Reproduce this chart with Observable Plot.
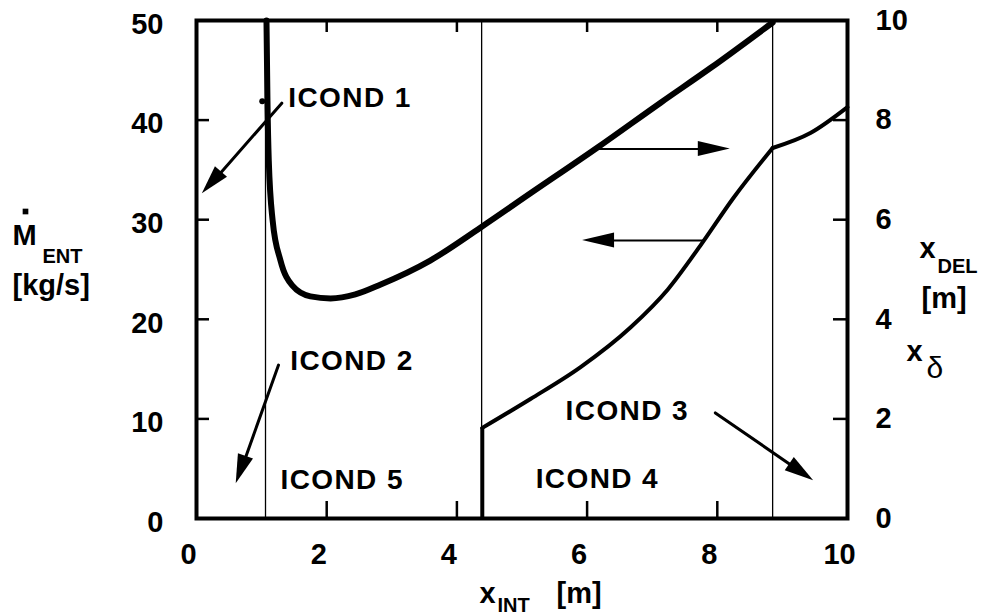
<!DOCTYPE html>
<html><head><meta charset="utf-8">
<script src="https://cdn.jsdelivr.net/npm/d3@7"></script>
<script src="https://cdn.jsdelivr.net/npm/@observablehq/plot@0.6"></script>
<style>body{margin:0;background:#fff}</style>
</head><body><div id="chart"></div>
<script>
// right axis (x_DEL, m) maps onto left axis (M_ENT, kg/s) by this ratio
const RATIO = 5;
const xTicks = [0, 2, 4, 6, 8, 10];
const yTicks = [0, 10, 20, 30, 40, 50];
const y2Ticks = [0, 2, 4, 6, 8, 10];
const innerXTicks = [2, 4, 6, 8];
const innerYTicks = [10, 20, 30, 40];
const boundaries = [1.06, 4.38, 8.85];

// x_DEL / x_delta curve (right axis, m)
const delX = [1.075, 1.09, 1.11, 1.17, 1.29, 1.47, 1.75, 2.06, 2.44, 2.83, 3.59, 4.36, 5.13, 6.16, 7.13, 7.90, 8.85];
const delY = [10, 8.39, 7.19, 5.98, 5.18, 4.68, 4.46, 4.42, 4.50, 4.70, 5.18, 5.84, 6.53, 7.45, 8.35, 9.05, 9.96];

// M_ENT curve (left axis, kg/s)
const mentX = [4.39, 5.13, 5.90, 6.67, 7.24, 7.74, 8.25, 8.85];
const mentY = [9.1, 12.0, 15.2, 19.2, 23.0, 27.4, 32.2, 37.2];
const ment2X = [8.85, 9.43, 10];
const ment2Y = [37.2, 38.7, 41.3];
const jumpX = [4.39];
const jumpY1 = [0];
const jumpY2 = [9.1];
const markX = [1.01];
const markY = [41.9];

// region labels
const labels = ["ICOND 1", "ICOND 2", "ICOND 3", "ICOND 4", "ICOND 5"];
const labelX = [1.41, 1.44, 5.67, 5.21, 1.29];
const labelY = [41.3, 14.9, 9.9, 3.1, 3.0];

// arrows (left-axis units)
const arrX1 = [1.31, 1.26, 7.97, 6.16, 7.77];
const arrY1 = [41.7, 15.4, 10.6, 37.1, 27.9];
const arrX2 = [0.09, 0.61, 9.48, 8.20, 5.93];
const arrY2 = [32.6, 3.5, 3.8, 37.1, 27.9];
const arrW = [3, 3, 3, 2, 2];

const del = delX.map((x, i) => ({x, y: delY[i] * RATIO}));
const ment = mentX.map((x, i) => ({x, y: mentY[i]}));
const ment2 = ment2X.map((x, i) => ({x, y: ment2Y[i]}));
const lab = labels.map((t, i) => ({t, x: labelX[i], y: labelY[i]}));
const arrows = arrX1.map((x1, i) => ({x1, y1: arrY1[i], x2: arrX2[i], y2: arrY2[i], w: arrW[i]}));

const FONT = "'Liberation Sans', Arial, Helvetica, sans-serif";
const W = 990, H = 615;
const ML = 196, MR = 143, MT = 20, MB = 97;
const innerH = H - MT - MB;
const innerW = W - ML - MR;

const txt = (s, o) => Plot.text([s], {frameAnchor: "top-left", textAnchor: "start", lineAnchor: "bottom", fontWeight: "bold", ...o});

const plot = Plot.plot({
  width: W, height: H,
  marginLeft: ML, marginRight: MR, marginTop: MT, marginBottom: MB,
  x: {domain: [0, 10]},
  y: {domain: [0, 50]},
  style: {fontFamily: FONT, fontSize: "29px", fontWeight: "bold", background: "white", color: "black", overflow: "visible"},
  marks: [
    Plot.ruleX(boundaries, {strokeWidth: 1.3}),
    // inner ticks
    Plot.ruleX(innerXTicks, {insetTop: innerH - 17, strokeWidth: 2.5}),
    Plot.ruleX(innerXTicks, {insetBottom: innerH - 12, strokeWidth: 2.5}),
    Plot.ruleY(innerYTicks, {insetRight: innerW - 13, strokeWidth: 2.5}),
    Plot.ruleY(innerYTicks, {insetLeft: innerW - 14, strokeWidth: 2.5}),
    Plot.frame({strokeWidth: 4}),
    Plot.line(del, {x: "x", y: "y", curve: "monotone-x", strokeWidth: 6}),
    Plot.line(ment, {x: "x", y: "y", curve: "monotone-x", strokeWidth: 4}),
    Plot.line(ment2, {x: "x", y: "y", curve: "monotone-x", strokeWidth: 4}),
    Plot.ruleX(jumpX, {y1: jumpY1, y2: jumpY2, strokeWidth: 4}),
    Plot.dot(markX, {x: d => d, y: (d, i) => markY[i], r: 3, fill: "black"}),
    Plot.arrow(arrows, {x1: "x1", y1: "y1", x2: "x2", y2: "y2", strokeWidth: "w", headLength: 0, insetEnd: 14}),
    Plot.text(lab, {x: "x", y: "y", text: "t", textAnchor: "start", lineAnchor: "bottom", fontSize: 28, fontWeight: "bold"}),
    // axes
    Plot.axisY(yTicks, {anchor: "left", tickSize: 0, tickPadding: 33, dy: 4, fontSize: 29, fontWeight: "bold", label: null}),
    Plot.axisY(y2Ticks.map(d => d * RATIO), {anchor: "right", tickSize: 0, tickPadding: 28, tickFormat: d => d / RATIO, fontSize: 29, fontWeight: "bold", label: null}),
    Plot.axisX(xTicks, {anchor: "bottom", tickSize: 0, tickPadding: 25, dx: -8, fontSize: 29, fontWeight: "bold", label: null}),
    // left title
    txt("M", {dx: 12 - ML, dy: 244 - MT, fontSize: 29}),
    Plot.dot([0], {frameAnchor: "top-left", dx: 25 - ML, dy: 211 - MT, symbol: "square", r: 3.2, fill: "black"}),
    txt("ENT", {dx: 42 - ML, dy: 262 - MT, fontSize: 20}),
    txt("[kg/s]", {dx: 12 - ML, dy: 294 - MT, fontSize: 29}),
    // right title
    txt("x", {dx: 919 - ML, dy: 257 - MT, fontSize: 29}),
    txt("DEL", {dx: 937 - ML, dy: 272 - MT, fontSize: 20}),
    txt("[m]", {dx: 921 - ML, dy: 307 - MT, fontSize: 29}),
    txt("x", {dx: 906 - ML, dy: 360 - MT, fontSize: 29}),
    txt("δ", {dx: 926 - ML, dy: 377 - MT, fontSize: 30, fontWeight: "normal"}),
    // bottom title
    txt("x", {dx: 479 - ML, dy: 602 - MT, fontSize: 29}),
    txt("INT", {dx: 497 - ML, dy: 611 - MT, fontSize: 20}),
    txt("[m]", {dx: 556 - ML, dy: 602 - MT, fontSize: 29})
  ]
});

// filled arrowheads, placed through the plot's own scales
const sx = plot.scale("x"), sy = plot.scale("y");
const svg = d3.select(plot);
const heads = svg.append("g").attr("aria-label", "arrowheads");
arrows.forEach(a => {
  const x1 = sx.apply(a.x1), y1 = sy.apply(a.y1), x2 = sx.apply(a.x2), y2 = sy.apply(a.y2);
  const ang = Math.atan2(y2 - y1, x2 - x1);
  const L = a.w > 2.5 ? 29 : 32, Wd = a.w > 2.5 ? 8 : 7.5;
  const bx = x2 - L * Math.cos(ang), by = y2 - L * Math.sin(ang);
  const px = -Math.sin(ang) * Wd, py = Math.cos(ang) * Wd;
  heads.append("path").attr("d", `M${x2},${y2}L${bx + px},${by + py}L${bx - px},${by - py}Z`).attr("fill", "black");
});
svg.selectAll("text").filter(function() { return /^ICOND/.test(this.textContent); }).attr("letter-spacing", "1.4px");

document.getElementById("chart").appendChild(plot);
</script>
</body></html>
